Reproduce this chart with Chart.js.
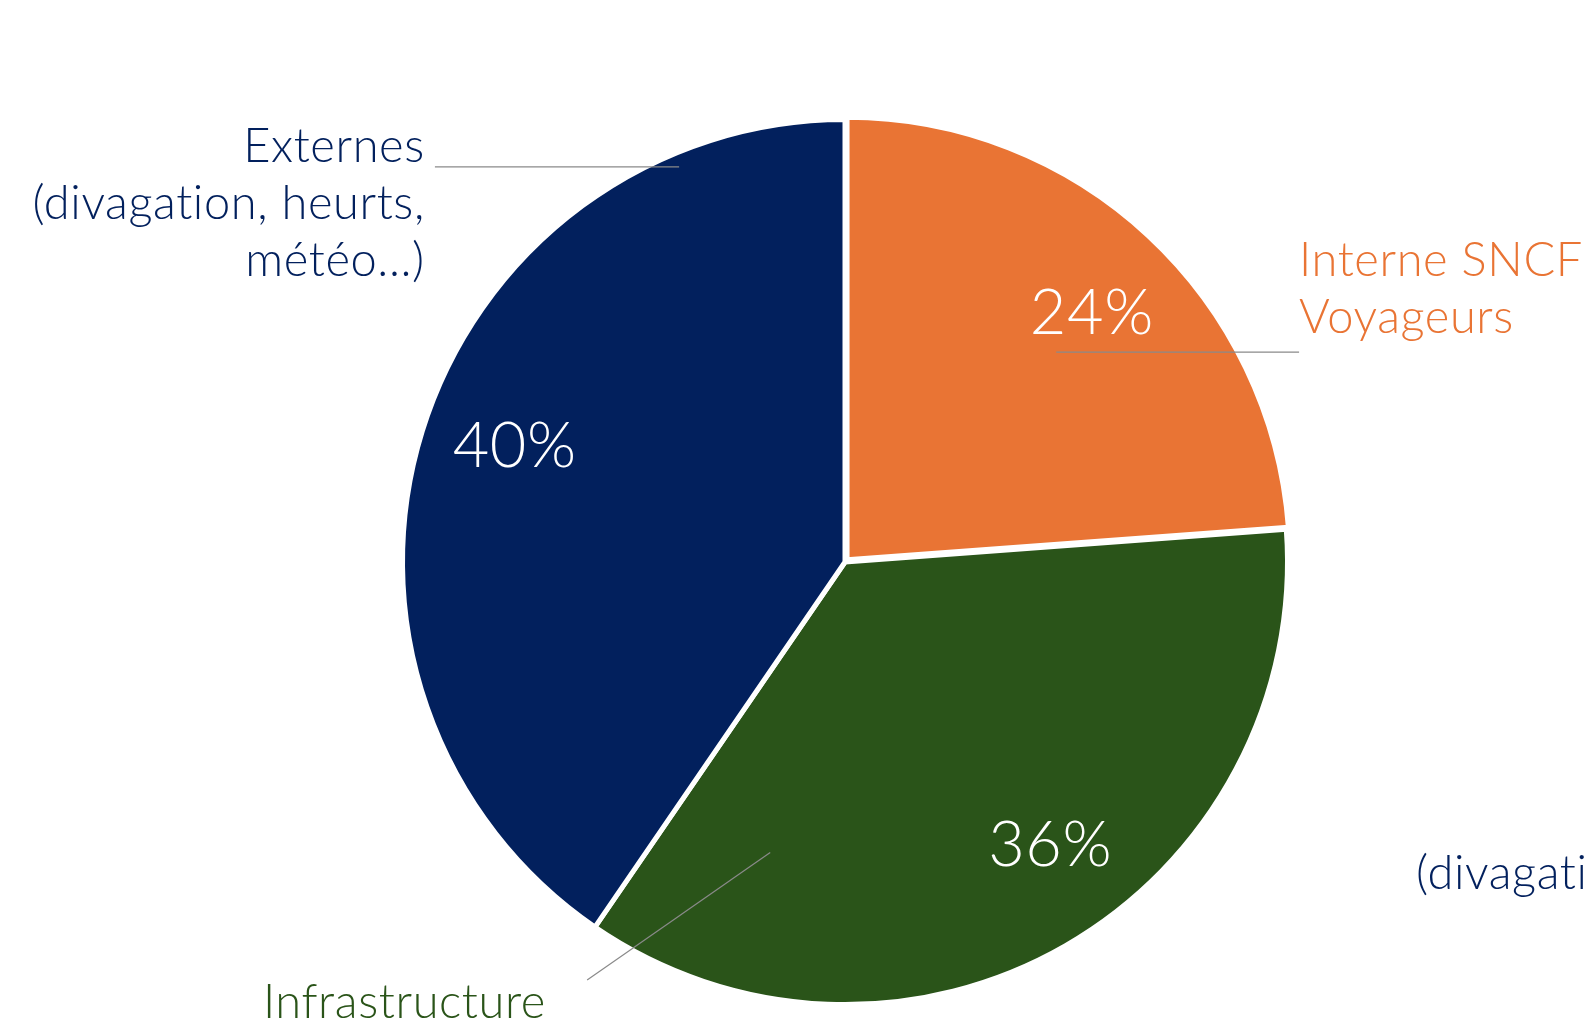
<!DOCTYPE html>
<html>
<head>
<meta charset="utf-8">
<script src="https://cdn.jsdelivr.net/npm/chart.js@4.4.0/dist/chart.umd.min.js"></script>
<style>
  html, body { margin: 0; padding: 0; background: #ffffff; overflow: hidden; }
  #wrap { position: relative; width: 1588px; height: 1024px; }
  canvas { font-variant-ligatures: none; }
</style>
</head>
<body>
<div id="wrap"><canvas id="c"></canvas></div>
<script>
// ---- Data ----
const categories = ["Interne SNCF Voyageurs", "Infrastructure", "Externes (divagation, heurts, météo...)"];
const shares = [23.8, 35.7, 40.4];
const sliceColors = ["#E97434", "#2A5419", "#02205D"];

// ---- Style / layout ----
const FONT = "Lato, 'Open Sans', sans-serif";
const LABEL_SIZE = 47;
const PCT_SIZE = 63;
const PIE_RADIUS = 442.5;
const pctRadiusFactor = 0.795;
const pctAngleNudgeDeg = [2, -6, 2];

// Callouts: positions in pie-relative units (fraction of radius from centre)
const callouts = [
  { idx: 2, lines: ["Externes", "(divagation, heurts,", "météo...)"], align: "right",
    line: [-0.932, -0.898, -0.377, -0.898], text: [-0.955, -0.909], lh: 57 },
  { idx: 0, lines: ["Interne SNCF", "Voyageurs"], align: "left",
    line: [0.480, -0.477, 1.032, -0.477], text: [1.032, -0.650], lh: 57 },
  { idx: 1, lines: ["Infrastructure"], align: "left",
    line: [-0.586, 0.950, -0.170, 0.660], text: [-1.323, 1.036], lh: 57 },
  { idx: 2, lines: ["(divagation, heurts,"], align: "left",
    line: null, text: [1.298, 0.743], lh: 57 }
];

const labelPlugin = {
  id: "pieLabels",
  afterDatasetsDraw(chart) {
    const ctx = chart.ctx;
    const meta = chart.getDatasetMeta(0);
    const arc0 = meta.data[0];
    const cx = arc0.x, cy = arc0.y;
    const R = 440;
    ctx.save();
    if ("letterSpacing" in ctx) ctx.letterSpacing = "0.6px";
    // percentage labels
    ctx.font = `300 ${PCT_SIZE}px ${FONT}`;
    ctx.fillStyle = "#ffffff";
    ctx.textAlign = "center";
    ctx.textBaseline = "middle";
    meta.data.forEach((arc, i) => {
      const mid = (arc.startAngle + arc.endAngle) / 2 + pctAngleNudgeDeg[i] * Math.PI / 180;
      const r = R * pctRadiusFactor;
      const x = cx + Math.cos(mid) * r;
      const y = cy + Math.sin(mid) * r;
      ctx.fillText(Math.round(shares[i]) + "%", x, y);
    });
    // callouts
    callouts.forEach(c => {
      if (c.line) {
        ctx.beginPath();
        ctx.strokeStyle = "#8a8a8a";
        ctx.lineWidth = 1.2;
        ctx.moveTo(cx + c.line[0] * R, cy + c.line[1] * R);
        ctx.lineTo(cx + c.line[2] * R, cy + c.line[3] * R);
        ctx.stroke();
      }
      ctx.font = `300 ${LABEL_SIZE}px ${FONT}`;
      ctx.fillStyle = sliceColors[c.idx];
      ctx.textAlign = c.align;
      ctx.textBaseline = "alphabetic";
      const tx = cx + c.text[0] * R;
      const ty = cy + c.text[1] * R;
      c.lines.forEach((ln, k) => ctx.fillText(ln, tx, ty + k * c.lh));
    });
    ctx.restore();
  }
};

new Chart(document.getElementById("c"), {
  type: "pie",
  data: {
    labels: categories,
    datasets: [{
      data: shares,
      backgroundColor: sliceColors,
      borderColor: "#ffffff",
      borderWidth: 5,
      offset: [12, 0, 0],
      hoverOffset: 0
    }]
  },
  options: {
    responsive: true,
    maintainAspectRatio: false,
    animation: false,
    radius: PIE_RADIUS,
    layout: { padding: { left: 400, right: 298, top: 110, bottom: 10 } },
    plugins: {
      legend: { display: false },
      tooltip: { enabled: false },
      title: { display: false }
    },
    events: []
  },
  plugins: [labelPlugin]
});
</script>
</body>
</html>
